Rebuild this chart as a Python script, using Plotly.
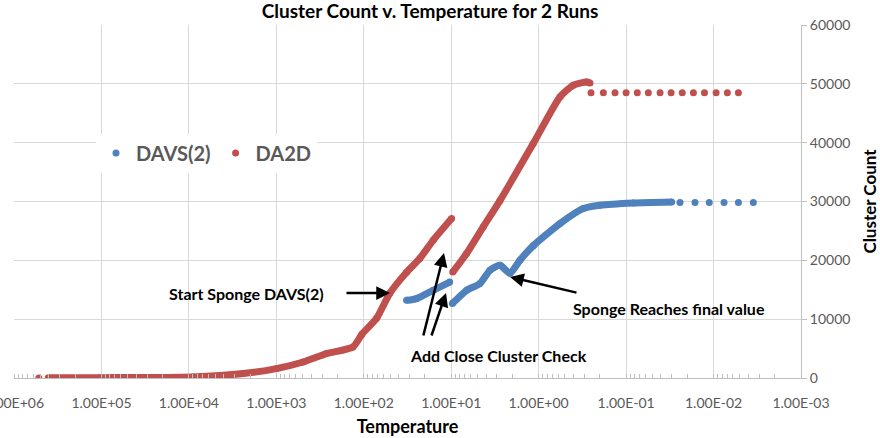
import plotly.graph_objects as go

# ---------------- data ----------------
chart_title = "Cluster Count v. Temperature for 2 Runs"
x_title = "Temperature"
y_title = "Cluster Count"
x_tick_vals = [1e6, 1e5, 1e4, 1e3, 1e2, 1e1, 1e0, 1e-1, 1e-2, 1e-3]
x_tick_text = ["1.00E+06", "1.00E+05", "1.00E+04", "1.00E+03", "1.00E+02",
               "1.00E+01", "1.00E+00", "1.00E-01", "1.00E-02", "1.00E-03"]
y_tick_vals = [0, 10000, 20000, 30000, 40000, 50000, 60000]
y_tick_text = ["0", "10000", "20000", "30000", "40000", "50000", "60000"]

# DAVS(2) run
davs_seg1_T = [32.4, 24.9, 16.1, 10.4]
davs_seg1_N = [13200, 13500, 14900, 16300]
davs_seg2_T = [9.7, 6.67, 4.70, 3.61, 2.77, 2.13, 1.64, 1.15, 0.571, 0.309, 0.199, 0.0828, 0.0301]
davs_seg2_N = [12650, 14900, 16050, 18300, 19150, 17800, 20000, 22500, 26240, 28790, 29350, 29740, 29910]
davs_tail_T = [0.0242, 0.0163, 0.0112, 0.00759, 0.0052, 0.00351]
davs_tail_N = [29850, 29850, 29850, 29850, 29850, 29850]

# DA2D run
da2d_first_T = [5.2e5]
da2d_first_N = [0]
da2d_seg1_T = [4.06e5, 1.04e5, 9000, 2390, 995, 494, 267, 133, 105, 71.4, 50.4, 32.4, 22.8, 16.1, 9.9]
da2d_seg1_N = [50, 60, 170, 750, 1600, 2720, 4150, 5270, 7430, 10150, 14400, 17970, 20350, 23400, 27100]
da2d_seg2_T = [9.6, 6.67, 4.31, 2.77, 1.154, 0.571, 0.403, 0.283, 0.259]
da2d_seg2_N = [18000, 21150, 25670, 30160, 39840, 47760, 49750, 50310, 50140]
da2d_tail_T = [0.252, 0.182, 0.134, 0.100, 0.0745, 0.0557, 0.0409, 0.0306,
               0.0228, 0.0170, 0.0127, 0.00935, 0.00695, 0.0052]
da2d_tail_N = [48500, 48500, 48500, 48500, 48500, 48500, 48500, 48500,
               48500, 48500, 48500, 48500, 48500, 48500]

# ---------------- styling ----------------
BLUE = "#4F81BD"
RED = "#C0504D"
GRID = "#D9D9D9"
AXIS = "#BFBFBF"
LABEL = "#595959"
FONT = "Lato"

W, H = 880, 438
ML, MR, MT, MB = 14, 79, 25, 60
PW = W - ML - MR
PH = H - MT - MB


def px(x):
    return (x - ML) / PW


def py(y):
    return (H - MB - y) / PH


LW = 7
MS = 7

fig = go.Figure()


def dense(T, N, color):
    fig.add_trace(go.Scatter(x=T, y=N, mode="lines+markers",
                             line=dict(color=color, width=LW, shape="spline", smoothing=0.6),
                             marker=dict(color=color, size=MS),
                             showlegend=False, hoverinfo="skip"))


def sparse(T, N, color, name, show):
    fig.add_trace(go.Scatter(x=T, y=N, mode="markers", name=name,
                             marker=dict(color=color, size=MS),
                             showlegend=show, legendgroup=name))


dense(davs_seg1_T, davs_seg1_N, BLUE)
dense(davs_seg2_T, davs_seg2_N, BLUE)
sparse(davs_tail_T, davs_tail_N, BLUE, "DAVS(2)", True)

sparse(da2d_first_T, da2d_first_N, RED, "DA2D", False)
dense(da2d_seg1_T, da2d_seg1_N, RED)
dense(da2d_seg2_T, da2d_seg2_N, RED)
sparse(da2d_tail_T, da2d_tail_N, RED, "DA2D", True)

ann_font = dict(family=FONT, size=16, color="black", weight="bold")
annotations = [
    dict(text="Start Sponge DAVS(2)", x=px(167), y=py(293), xanchor="left", yanchor="middle"),
    dict(text="Sponge Reaches final value", x=px(571), y=py(308), xanchor="left", yanchor="middle"),
    dict(text="Add Close Cluster Check", x=px(589), y=py(355), xanchor="right", yanchor="middle"),
]
for a in annotations:
    a.update(xref="paper", yref="paper", showarrow=False, font=ann_font)

arrows = [
    ((390, 293), (345, 293)),
    ((510, 277), (578, 293)),
    ((444, 253), (423, 337)),
    ((446, 293), (431, 337)),
]
for tip, tail in arrows:
    annotations.append(dict(
        x=px(tip[0]), y=py(tip[1]), xref="paper", yref="paper",
        ax=tail[0] - tip[0], ay=tail[1] - tip[1], axref="pixel", ayref="pixel",
        text="", showarrow=True, arrowhead=2, arrowsize=1.1, arrowwidth=2.5,
        arrowcolor="black", standoff=0))

fig.update_layout(
    width=W, height=H,
    margin=dict(l=ML, r=MR, t=MT, b=MB, pad=0),
    paper_bgcolor="white", plot_bgcolor="white",
    font=dict(family=FONT, color=LABEL),
    title=dict(text=chart_title, x=430 / W, xref="container", xanchor="center",
               y=1 - 11 / H, yref="container", yanchor="middle",
               font=dict(family=FONT, size=19, color="black", weight="bold")),
    legend=dict(orientation="h", x=px(96), y=py(153), xanchor="left", yanchor="middle",
                bgcolor="white", borderwidth=0,
                font=dict(family=FONT, size=20, color=LABEL, weight="bold"),
                itemwidth=30),
    annotations=annotations,
    xaxis=dict(type="log", range=[6, -3], tickmode="array",
               tickvals=x_tick_vals, ticktext=x_tick_text,
               tickfont=dict(family=FONT, size=14, color=LABEL),
               ticklabeloverflow="allow", ticklabelstandoff=12,
               showgrid=True, gridcolor=GRID, gridwidth=1,
               showline=True, linecolor=AXIS, linewidth=1,
               ticks="", zeroline=False, automargin=False,
               minor=dict(ticks="inside", ticklen=4, tickcolor=AXIS, dtick="D1", showgrid=False),
               title=dict(text=x_title, standoff=10,
                          font=dict(family=FONT, size=18, color="black", weight="bold"))),
    yaxis=dict(side="right", range=[0, 60000], tickmode="array",
               tickvals=y_tick_vals, ticktext=y_tick_text,
               tickfont=dict(family=FONT, size=14, color=LABEL),
               ticklabeloverflow="allow",
               showgrid=True, gridcolor=GRID, gridwidth=1,
               showline=True, linecolor=AXIS, linewidth=1,
               ticks="outside", ticklen=5, tickcolor=AXIS,
               zeroline=False, automargin=False,
               title=dict(text=y_title, standoff=14,
                          font=dict(family=FONT, size=17, color="black", weight="bold"))),
)

fig.write_html("out.html")
